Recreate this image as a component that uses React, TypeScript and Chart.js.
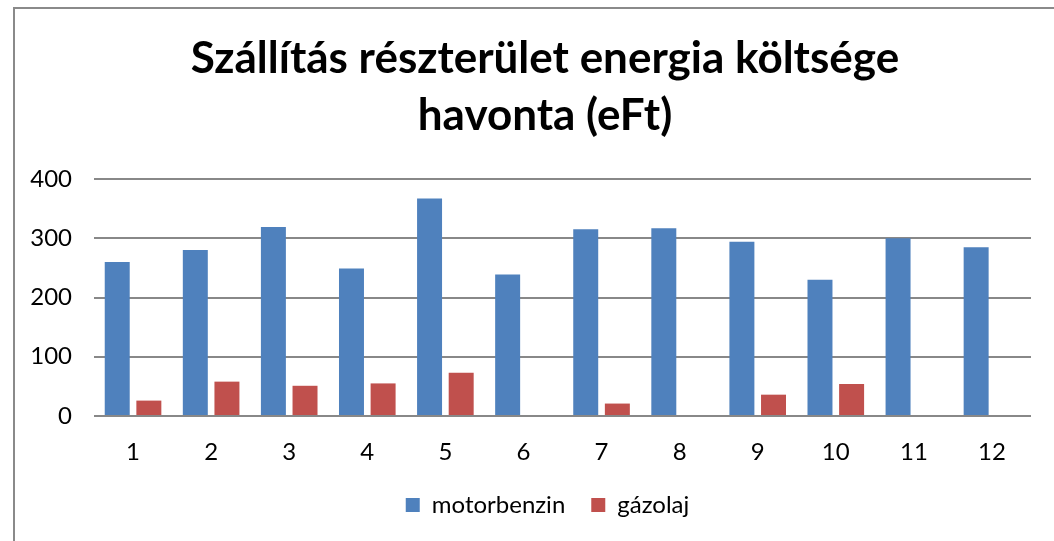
import React, { useEffect, useRef } from "react";
import { Chart, registerables } from "chart.js";

Chart.register(...registerables);

const titleLines = ["Szállítás részterület energia költsége", "havonta (eFt)"];
const months = ["1", "2", "3", "4", "5", "6", "7", "8", "9", "10", "11", "12"];
const motorbenzin = [260, 280, 319, 249, 367, 239, 315, 317, 294, 230, 300, 285];
const gazolaj = [26, 58, 51, 55, 73, 0, 21, 0, 36, 54, 0, 0];
const seriesNames = ["motorbenzin", "gázolaj"];
const yTicks = [0, 100, 200, 300, 400];

const FONT = "Lato, 'Open Sans', sans-serif";

const framePlugin = {
  id: "frame",
  afterLayout(chart: any) {
    if (chart.legend) {
      chart.legend.left += 22;
      chart.legend.right += 22;
    }
  },
  beforeDraw(chart: any) {
    const ctx = chart.ctx;
    ctx.save();
    ctx.fillStyle = "#ffffff";
    ctx.fillRect(0, 0, chart.width, chart.height);
    ctx.strokeStyle = "#8a8a8a";
    ctx.lineWidth = 2;
    ctx.beginPath();
    ctx.moveTo(14, chart.height);
    ctx.lineTo(14, 8);
    ctx.lineTo(chart.width, 8);
    ctx.stroke();
    ctx.restore();
  },
  afterDraw(chart: any) {
    const ctx = chart.ctx;
    ctx.save();
    ctx.fillStyle = "#000000";
    ctx.font = `bold 44px ${FONT}`;
    ctx.textAlign = "center";
    ctx.textBaseline = "alphabetic";
    const cx = 545;
    const baselines = [73, 130];
    titleLines.forEach((line, i) => ctx.fillText(line, cx, baselines[i]));
    ctx.restore();
  },
};

export default function App() {
  const ref = useRef<HTMLCanvasElement | null>(null);
  useEffect(() => {
    if (!ref.current) return;
    const chart = new Chart(ref.current, {
      type: "bar",
      data: {
        labels: months,
        datasets: [
          {
            label: seriesNames[0],
            data: motorbenzin,
            backgroundColor: "#4F81BD",
            categoryPercentage: 0.81,
            barPercentage: 0.79,
          },
          {
            label: seriesNames[1],
            data: gazolaj,
            backgroundColor: "#C0504D",
            categoryPercentage: 0.81,
            barPercentage: 0.79,
          },
        ],
      },
      options: {
        animation: false,
        responsive: false,
        maintainAspectRatio: false,
        layout: { padding: { left: 20, right: 23, top: 179, bottom: 14 } },
        plugins: {
          title: { display: false },
          legend: {
            position: "bottom",
            labels: {
              color: "#000000",
              font: { family: FONT, size: 24 },
              boxWidth: 14,
              boxHeight: 14,
              padding: 26,
            },
          },
          tooltip: { enabled: false },
        },
        scales: {
          x: {
            grid: { display: false, drawTicks: false },
            border: { display: false },
            ticks: { color: "#000000", font: { family: FONT, size: 24 }, padding: 22 },
            afterFit(scale: any) {
              scale.height = 51;
            },
          },
          y: {
            min: 0,
            max: 400,
            afterBuildTicks(scale: any) {
              scale.ticks = yTicks.map((v) => ({ value: v }));
            },
            grid: { color: "#888888", lineWidth: 2, drawTicks: false },
            border: { display: false },
            ticks: { color: "#000000", font: { family: FONT, size: 24 }, padding: 22 },
            afterFit(scale: any) {
              scale.width = 74;
            },
          },
        },
      },
      plugins: [framePlugin],
    });
    return () => chart.destroy();
  }, []);
  return (
    <div style={{ position: "fixed", left: 0, top: 0, width: 1054, height: 541, background: "#fff" }}>
      <canvas ref={ref} width={1054} height={541} style={{ display: "block" }} />
    </div>
  );
}
